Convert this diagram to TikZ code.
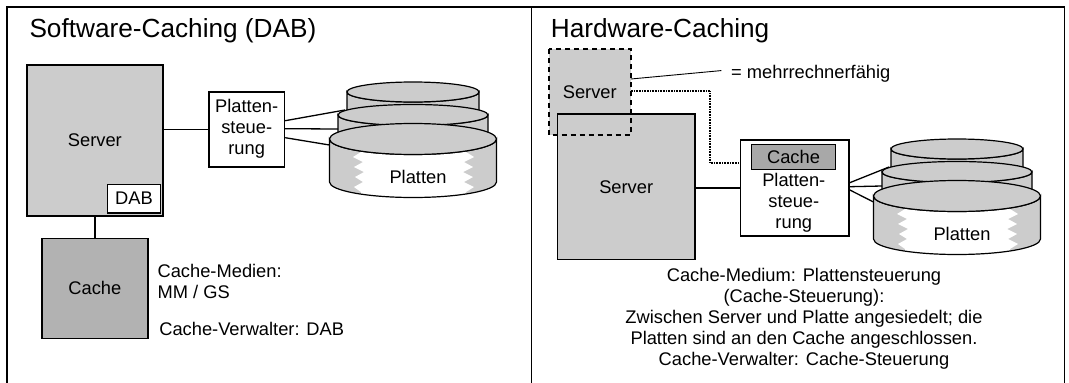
\documentclass[tikz,border=0pt]{standalone}
\usepackage{fontspec}
\setmainfont{Liberation Sans}
\usetikzlibrary{positioning}
\definecolor{srvgray}{gray}{0.80}
\definecolor{cachegray}{gray}{0.70}
\definecolor{cachegrayb}{gray}{0.66}
\definecolor{diskgray}{gray}{0.80}
\newcommand\txtsize{\fontsize{18.3}{21}\selectfont}
\newcommand\titlesize{\fontsize{26.2}{30}\selectfont}
\newcommand\diskside[4]{(-#1,#2) -- (-#1,#2+#4) arc[start angle=180,end angle=0,x radius=#1,y radius=#3] -- (#1,#2) arc[start angle=0,end angle=180,x radius=#1,y radius=#3] -- cycle}
\tikzset{
    box/.style={draw, line width=1.6pt, inner sep=0pt, align=center, font=\txtsize},
    srvbox/.style={box, fill=srvgray},
    cachebox/.style={box, fill=cachegray},
    plainbox/.style={box, fill=white},
    txt/.style={inner sep=0pt, align=center, font=\txtsize},
    titletxt/.style={inner sep=0pt, anchor=base west, font=\titlesize},
    wire/.style={line width=1.3pt},
    dotline/.style={line width=2.4pt, dash pattern=on 0.8pt off 0.8pt},
    dashbox/.style={line width=1.8pt, dash pattern=on 5pt off 4pt},
    frame/.style={line width=1.4pt},
    disk/.style={fill=diskgray, line width=1.2pt},
    platten/.pic={
        \foreach \cy/\rx/\ry in {-47/66/10, -24/75/10.5} {
            \filldraw[disk] \diskside{\rx}{\cy}{\ry}{22};
            \filldraw[disk] (0,\cy) ellipse[x radius=\rx, y radius=\ry];
        }
        \fill[diskgray] \diskside{83.5}{0}{15.5}{43};
        \begin{scope}
            \clip \diskside{83.5}{0}{15.5}{43};
            \fill[white] (-52,0) -- (-52,13) -- (-60,18) -- (-50,23) -- (-59,28) -- (-49,33) -- (-58,38)
                -- (-50,43) -- (-59,48) -- (-52,53) -- (-52,70) -- (53,70) -- (53,53) -- (61,48) -- (51,43)
                -- (60,38) -- (50,33) -- (60,28) -- (51,23) -- (61,18) -- (53,13) -- (53,0) -- cycle;
        \end{scope}
        \draw[disk, fill=none] \diskside{83.5}{0}{15.5}{43};
        \filldraw[disk] (0,0) ellipse[x radius=83.5, y radius=15.5];
        \node[txt] (-lbl) at (5,38) {Platten};
        \coordinate (-a) at (-68,-29);
        \coordinate (-b) at (-75,-10);
        \coordinate (-c) at (-83.5,6);
    }
}

\begin{document}
\begin{tikzpicture}[x=1pt, y=-1pt]
    \useasboundingbox (0,0) rectangle (1069,383);
    \draw[frame] (7,383) -- (7,7) -- (1064.7,7) -- (1064.7,383);
    \draw[frame] (531.7,7) -- (531.7,383);

    % Software-Caching
    \node[titletxt] (title1) at (29.3,37) {Software-Caching (DAB)};
    \node[srvbox, minimum width=136, minimum height=151] (srv1) at (94.9,140.5) {Server};
    \node[plainbox, minimum width=53, minimum height=28.4, above left=3.3pt and 2.4pt of srv1.south east] (dab1) {DAB};
    \node[cachebox, minimum width=106.4, minimum height=100, below=20.7pt of srv1] (cache1) {Cache};
    \node[plainbox, minimum width=75.4, minimum height=75] (ctl1) at (246.7,129.2) {Platten-\\steue-\\rung};
    \pic (st1) at (413,139) {platten};
    \node[txt, anchor=base west] (med1) at (157.4,277) {Cache-Medien:};
    \node[txt, anchor=base west] (med2) at (157.4,298) {MM / GS};
    \node[txt, anchor=base west] (verw1) at (159.1,335) {Cache-Verwalter: DAB};

    \draw[wire] (ctl1.west -| srv1.east) -- (ctl1.west);
    \draw[wire] (srv1.south) -- (cache1.north);
    \foreach \s/\e in {8.5/a, 0.5/b, -8.5/c}
        \draw[wire] ([yshift=\s pt]ctl1.east) -- (st1-\e);

    % Hardware-Caching
    \node[titletxt] (title2) at (550.7,37.3) {Hardware-Caching};
    \node[fill=srvgray, inner sep=0pt, font=\txtsize, minimum width=81.7, minimum height=85.7] (srv2b) at (589.8,92.2) {Server};
    \node[srvbox, minimum width=137.2, minimum height=145.3] (srv2) at (626.2,186.7) {Server};
    \draw[dashbox] (srv2b.north west) rectangle (srv2b.south east);
    \node[plainbox, minimum width=108.7, minimum height=96] (ctl2) at (794.7,188) {};
    \node[box, fill=cachegrayb, line width=1.3pt, minimum width=83.5, minimum height=25] (cache2) at (793.5,156.8) {Cache};
    \node[txt] (lbl2) at (793.8,203) {Platten-\\steue-\\rung};
    \pic (st2) at (957,196) {platten};
    \node[txt, anchor=base west] (mr) at (731,78.3) {= mehrrechnerfähig};
    \node[txt, anchor=north] (info2) at (804,268.5) {Cache-Medium: Plattensteuerung\\(Cache-Steuerung):\\Zwischen Server und Platte angesiedelt; die\\Platten sind an den Cache angeschlossen.\\Cache-Verwalter: Cache-Steuerung};

    \draw[line width=0.9pt] ([yshift=13.2pt]srv2b.east) -- ([xshift=-9.6pt, yshift=3pt]mr.west);
    \draw[dotline] ([yshift=1.5pt]srv2b.east) -- ++(79.3,0) |- ([yshift=25.3pt]ctl2.west);
    \draw[wire] (ctl2.west -| srv2.east) -- (ctl2.west);
    \foreach \s/\e in {5.3/a, 1.3/b, -2/c}
        \draw[wire] ([yshift=\s pt]ctl2.east) -- (st2-\e);
\end{tikzpicture}
\end{document}
